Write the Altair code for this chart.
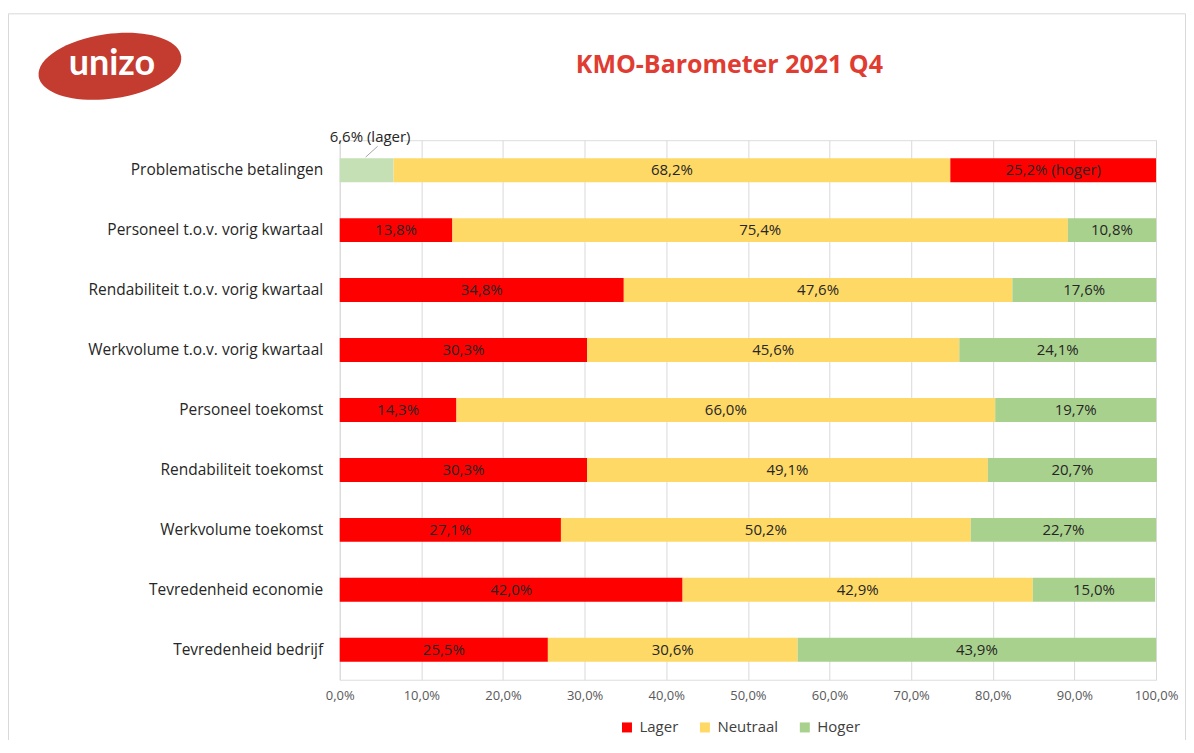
import altair as alt
import pandas as pd

# ---- data ----
categorieen = [
    "Problematische betalingen",
    "Personeel t.o.v. vorig kwartaal",
    "Rendabiliteit t.o.v. vorig kwartaal",
    "Werkvolume t.o.v. vorig kwartaal",
    "Personeel toekomst",
    "Rendabiliteit toekomst",
    "Werkvolume toekomst",
    "Tevredenheid economie",
    "Tevredenheid bedrijf",
]
lager = [6.6, 13.8, 34.8, 30.3, 14.3, 30.3, 27.1, 42.0, 25.5]
neutraal = [68.2, 75.4, 47.6, 45.6, 66.0, 49.1, 50.2, 42.9, 30.6]
hoger = [25.2, 10.8, 17.6, 24.1, 19.7, 20.7, 22.7, 15.0, 43.9]
reeksen = ["Lager", "Neutraal", "Hoger"]
x_ticks = [0, 10, 20, 30, 40, 50, 60, 70, 80, 90, 100]
titel = ["KMO-Barometer 2021 Q4"]
logo = ["unizo"]

omgekeerd = "Problematische betalingen"

rows = []
for i, c in enumerate(categorieen):
    for j, (reeks, vals) in enumerate(zip(reeksen, [lager, neutraal, hoger])):
        kleur = reeks
        suffix = ""
        if c == omgekeerd and reeks != "Neutraal":
            kleur = reeks + " (omgekeerd)"
            suffix = " (" + reeks.lower() + ")"
        rows.append(dict(categorie=c, reeks=reeks, volgorde=j, waarde=vals[i],
                         kleur=kleur, suffix=suffix))
df = pd.DataFrame(rows)

FONT = "Open Sans"
kleur_domein = ["Lager", "Neutraal", "Hoger", "Lager (omgekeerd)", "Hoger (omgekeerd)"]
kleur_range = ["#FF0000", "#FFD966", "#A9D18E", "#C5E0B4", "#FF0000"]

W, H = 817, 540
PAD = {"left": 332, "top": 132, "right": 30, "bottom": 60}

base = alt.Chart(df).transform_stack(
    stack="waarde", groupby=["categorie"], as_=["x0", "x1"],
    sort=[alt.SortField("volgorde", order="ascending")]
).transform_calculate(
    mid="(datum.x0 + datum.x1) / 2",
    label="replace(format(datum.waarde, '.1f'), '.', ',') + '%' + datum.suffix",
)

y_enc = alt.Y(
    "categorie:N", sort=categorieen,
    scale=alt.Scale(paddingInner=0.6, paddingOuter=0.3),
    axis=alt.Axis(title=None, domain=False, ticks=False, labelPadding=17,
                  labelFontSize=15.5, labelColor="#262626", labelFont=FONT,
                  labelLimit=400),
)

bars = base.mark_bar().encode(
    x=alt.X("x0:Q", scale=alt.Scale(domain=[0, 100], nice=False),
            axis=alt.Axis(values=x_ticks, title=None, grid=True,
                          gridColor="#D9D9D9", domain=False, ticks=False,
                          labelPadding=10, labelFontSize=13, labelFlush=False,
                          labelColor="#595959", labelFont=FONT,
                          labelExpr="replace(format(datum.value, '.1f'), '.', ',') + '%'")),
    x2="x1:Q",
    y=y_enc,
    color=alt.Color(
        "kleur:N",
        scale=alt.Scale(domain=kleur_domein, range=kleur_range),
        legend=alt.Legend(values=reeksen, title=None, orient="none",
                          direction="horizontal", legendX=280, legendY=580,
                          symbolType="square", symbolSize=100,
                          symbolStrokeWidth=0, labelFontSize=15,
                          labelColor="#404040", labelFont=FONT,
                          columnPadding=19, labelOffset=5),
    ),
)

is_special = "datum.categorie == '" + omgekeerd + "' && datum.reeks == 'Lager'"

labels = base.transform_filter("!(" + is_special + ")").mark_text(
    fontSize=15, color="#262626", font=FONT, baseline="middle"
).encode(x="mid:Q", y=alt.Y("categorie:N", sort=categorieen), text="label:N")

special_label = base.transform_filter(is_special).mark_text(
    fontSize=15, color="#262626", font=FONT, align="left", baseline="middle",
    dx=-37, dy=-33
).encode(x="mid:Q", y=alt.Y("categorie:N", sort=categorieen), text="label:N")

leader = base.transform_filter(is_special).mark_point(
    shape="M-1,0.9L1,-0.9", size=144, filled=False, stroke="#A6A6A6",
    strokeWidth=1, opacity=1, xOffset=5, yOffset=-18.5
).encode(x="mid:Q", y=alt.Y("categorie:N", sort=categorieen))

meta = pd.DataFrame({"titel": titel, "logo": logo})

frame = alt.Chart(meta).mark_rect(
    fillOpacity=0, stroke="#D9D9D9", strokeWidth=1
).encode(
    x=alt.value(-PAD["left"] + 0.5), x2=alt.value(W + PAD["right"] - 0.5),
    y=alt.value(-126.5), y2=alt.value(H + 200),
)

logo_ellipse = alt.Chart(meta).mark_point(
    shape="M-1,0A1,0.45 0 1,0 1,0A1,0.45 0 1,0 -1,0Z",
    size=20736, filled=True, fill="#C43B2F", opacity=1, strokeWidth=0,
    angle=352,
).encode(x=alt.value(110 - 340), y=alt.value(66 - 140))

logo_text = alt.Chart(meta).mark_text(
    font="Lato", fontWeight="bold", fontSize=36, color="white",
    baseline="middle", align="center"
).encode(x=alt.value(112 - 340), y=alt.value(64 - 140), text="logo:N")

title = alt.Chart(meta).mark_text(
    font=FONT, fontWeight="bold", fontSize=25, color="#E03C31",
    baseline="middle", align="center"
).encode(x=alt.value(730 - 340), y=alt.value(65 - 140), text="titel:N")

chart = alt.layer(
    frame, logo_ellipse, logo_text, title, bars, labels, special_label, leader
).properties(
    width=W, height=H,
    autosize=alt.AutoSizeParams(type="none"),
    padding=PAD,
).configure_view(stroke=None).configure(font=FONT)

chart.save("out.html", embed_options={"renderer": "svg", "actions": False})
